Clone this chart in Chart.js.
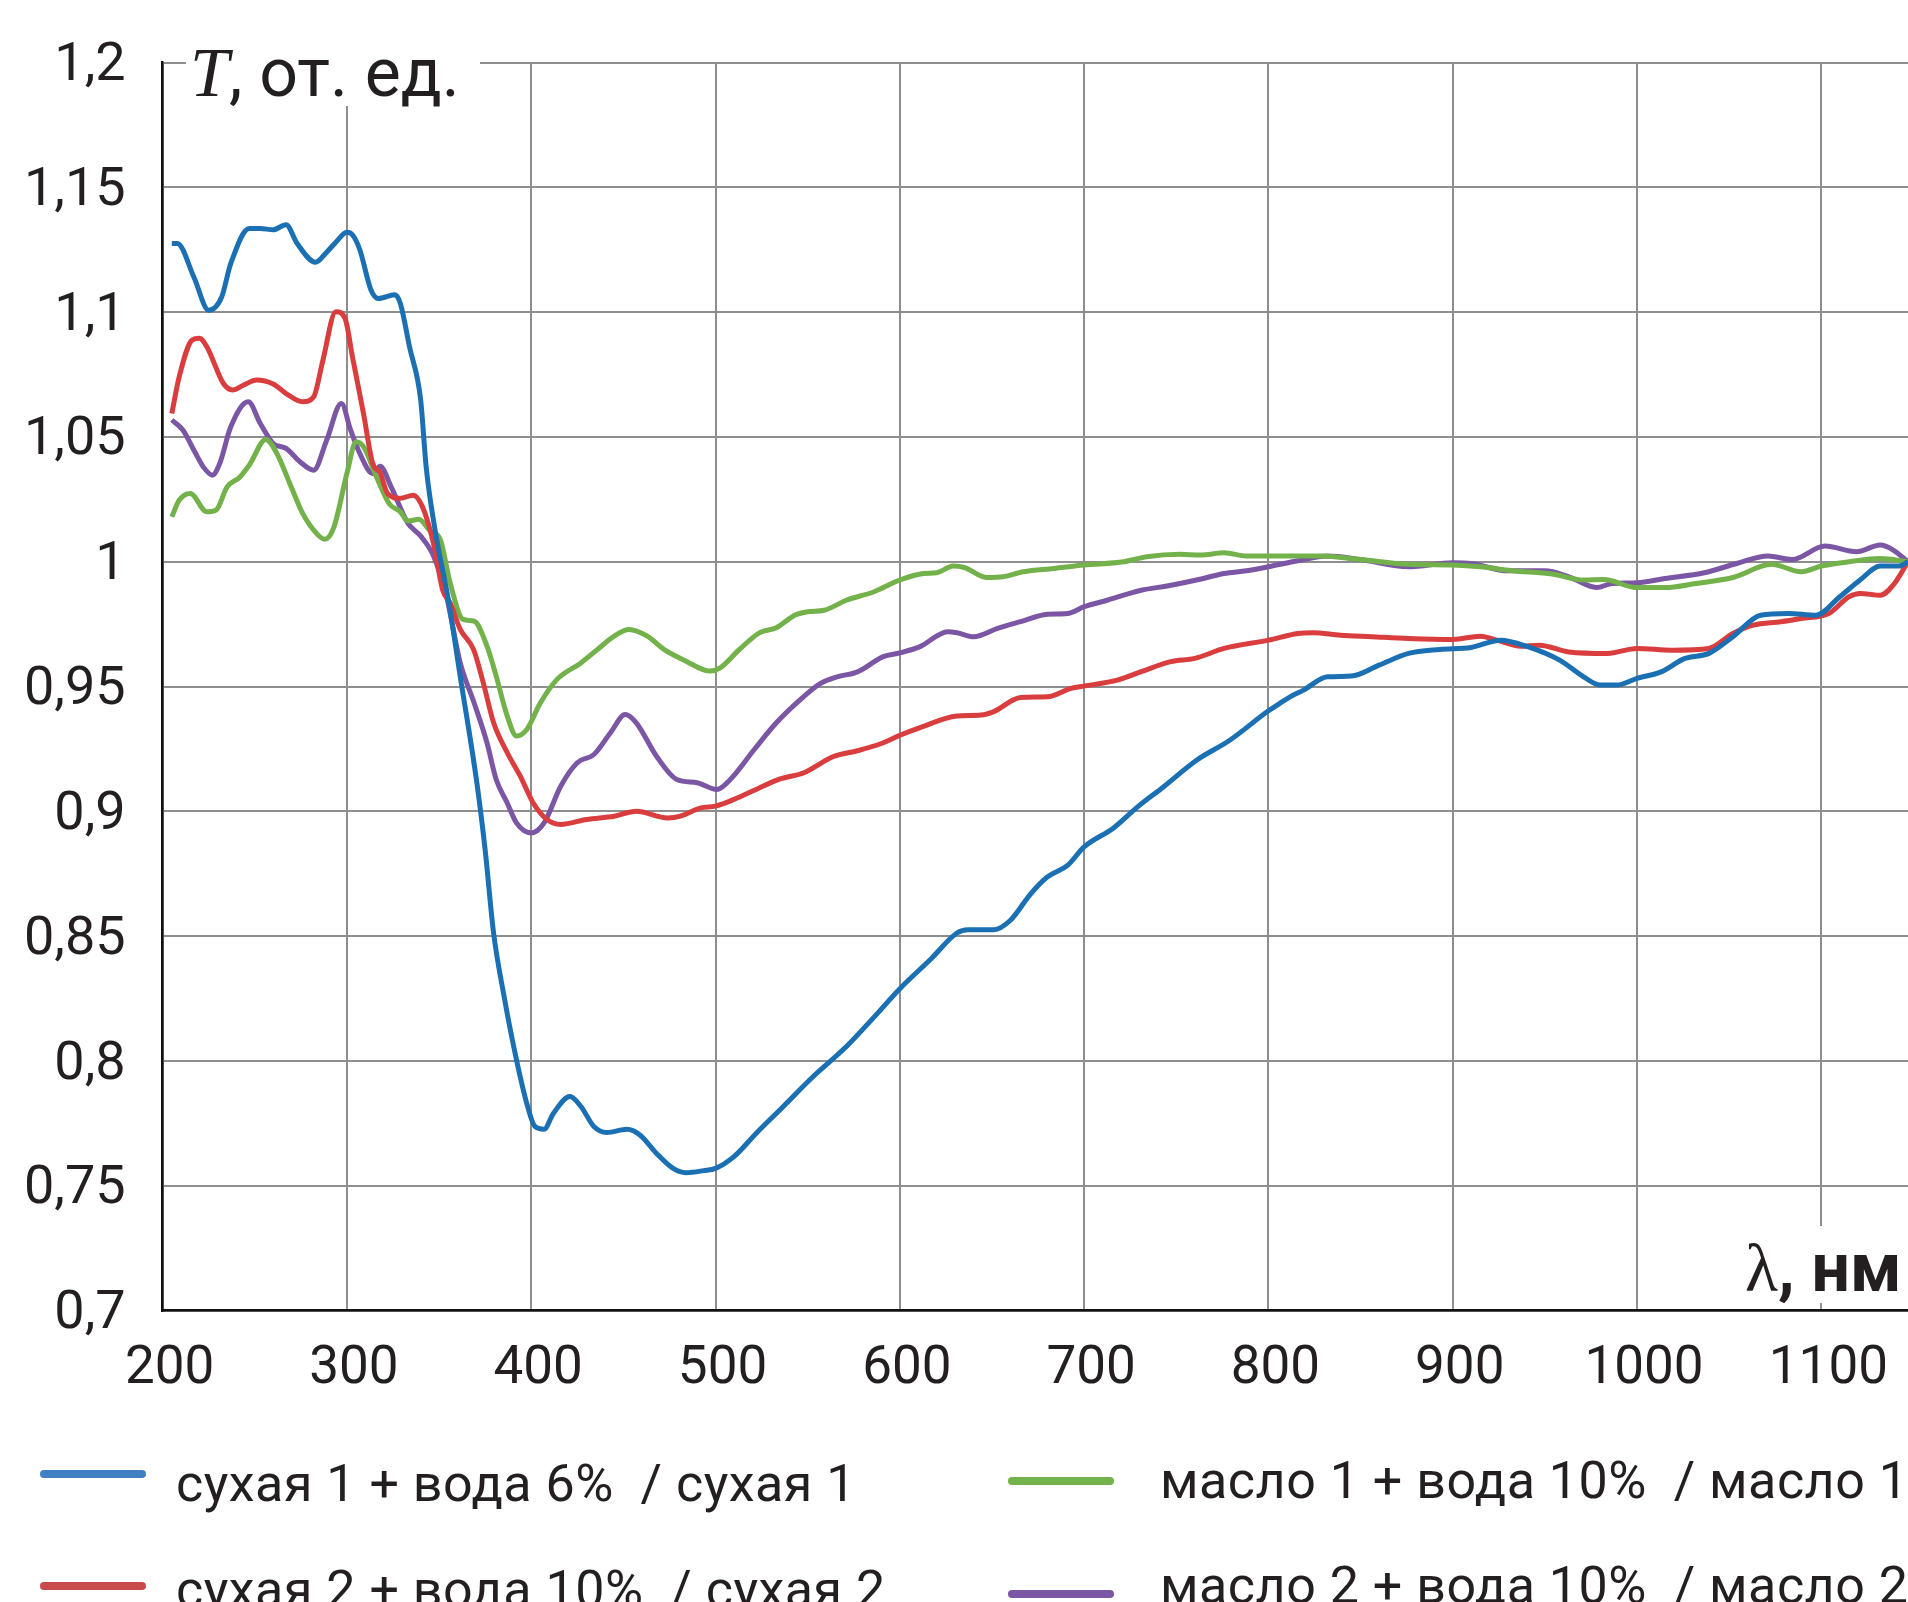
<!DOCTYPE html>
<html>
<head>
<meta charset="utf-8">
<script src="https://cdn.jsdelivr.net/npm/chart.js@4.4.1/dist/chart.umd.min.js"></script>
<style>
    html, body { margin: 0; padding: 0; background: #fff; }
    #wrap { width: 1908px; height: 1602px; overflow: hidden; }
</style>
</head>
<body>
<div id="wrap"><canvas id="spectraChart" width="1908" height="1602"></canvas></div>
<script>
// сухая 1 + вода 6% / сухая 1
const waveDry1 = [205, 208, 217, 225, 232, 237, 247, 253, 260, 267, 273, 283, 289, 294, 300, 303, 307, 313, 317, 326, 329, 334, 340, 343, 348, 355, 361.5, 370.5, 375, 379.6, 385, 392, 397.6, 402, 407, 412, 421, 427, 434, 441, 452, 459, 468, 477, 484, 493.5, 500, 510, 522, 535, 553, 571, 586, 600, 617, 631, 637, 651, 660, 671, 680, 691, 700, 716, 729, 743, 761, 779, 800, 806, 812, 819, 832, 845, 860, 876, 893, 910, 926, 941, 958, 971, 980, 989, 1000, 1013, 1026, 1039, 1052, 1067, 1082, 1097, 1110, 1121, 1132, 1142, 1147];
const transDry1 = [1.1275, 1.1275, 1.114, 1.1008, 1.106, 1.1195, 1.1335, 1.1335, 1.133, 1.135, 1.1275, 1.120, 1.124, 1.128, 1.132, 1.131, 1.125, 1.109, 1.1055, 1.107, 1.1035, 1.086, 1.065, 1.038, 1.012, 0.985, 0.954, 0.9115, 0.8846, 0.8512, 0.827, 0.8005, 0.783, 0.7738, 0.7727, 0.779, 0.7858, 0.7818, 0.7738, 0.7714, 0.7727, 0.7704, 0.763, 0.757, 0.7553, 0.7561, 0.757, 0.7617, 0.771, 0.7805, 0.7938, 0.8058, 0.8176, 0.829, 0.841, 0.8513, 0.8526, 0.8526, 0.8564, 0.867, 0.8737, 0.8784, 0.8858, 0.8934, 0.9018, 0.9098, 0.9205, 0.9285, 0.9403, 0.9432, 0.946, 0.9486, 0.9539, 0.9542, 0.9586, 0.9633, 0.9649, 0.9657, 0.9686, 0.9659, 0.9606, 0.9539, 0.9506, 0.9506, 0.9533, 0.9559, 0.9613, 0.9633, 0.970, 0.9786, 0.9793, 0.9786, 0.986, 0.9927, 0.9983, 0.9983, 1.0];

// сухая 2 + вода 10% / сухая 2
const waveDry2 = [205, 209, 216, 220, 224, 233, 238, 244, 251, 260, 267, 276, 282, 287, 294, 299, 303, 309, 314, 318, 322, 329, 336, 341, 347, 352, 356, 361.5, 368.7, 374, 379.6, 387, 394, 401, 408.5, 416, 430, 445, 457, 474, 481, 492, 500, 510, 522, 535, 548, 564, 577, 590, 600, 611, 631, 644, 651, 665.5, 680, 693, 700, 718, 731, 747, 760, 776, 800, 816, 824, 839, 856, 876, 900, 915, 924, 937, 947, 963, 984, 1000, 1019, 1039, 1052, 1063, 1078, 1089, 1104, 1115, 1121, 1132, 1139, 1147];
const transDry2 = [1.0594, 1.0741, 1.0888, 1.0895, 1.0861, 1.0714, 1.0688, 1.0708, 1.0728, 1.0712, 1.0674, 1.0641, 1.0661, 1.0808, 1.1002, 1.0975, 1.0821, 1.0594, 1.0394, 1.0357, 1.0274, 1.0254, 1.0267, 1.022, 1.0073, 0.9886, 0.9836, 0.9729, 0.9649, 0.9515, 0.9355, 0.9235, 0.9142, 0.9035, 0.8968, 0.8948, 0.8968, 0.8981, 0.9001, 0.8974, 0.8981, 0.9014, 0.9021, 0.9048, 0.9088, 0.913, 0.9155, 0.922, 0.9243, 0.9272, 0.9305, 0.9336, 0.9382, 0.9386, 0.940, 0.9456, 0.9459, 0.9493, 0.9502, 0.9526, 0.956, 0.960, 0.9613, 0.9653, 0.9686, 0.9713, 0.9716, 0.9706, 0.970, 0.9693, 0.9689, 0.9702, 0.9686, 0.9662, 0.9666, 0.9639, 0.9633, 0.9653, 0.9646, 0.9653, 0.9713, 0.9746, 0.976, 0.9773, 0.9793, 0.986, 0.9873, 0.9866, 0.9907, 1.0];

// масло 1 + вода 10% / масло 1
const waveOil1 = [205, 209, 215, 224, 229, 235, 242, 247, 256, 262, 269, 276, 283.5, 288, 293, 300, 305, 309, 316, 323, 329, 333, 339, 345, 350.6, 356, 363, 369, 376, 381, 387, 392, 397.6, 405, 414, 427, 436, 445, 453, 463, 472, 484, 497, 502.5, 513, 524, 533, 543, 550, 559, 571, 586, 600, 613, 620, 629, 635, 647, 656, 667, 683.5, 700, 721.5, 734, 752, 763, 776, 788, 800, 828, 850, 876, 900, 915, 932, 954, 971, 982, 999.5, 1015, 1032, 1052, 1073, 1089, 1100, 1115, 1132, 1147];
const transOil1 = [1.018, 1.0247, 1.0274, 1.020, 1.0207, 1.030, 1.034, 1.0387, 1.049, 1.0434, 1.0314, 1.0194, 1.0114, 1.009, 1.014, 1.0354, 1.0481, 1.0461, 1.0341, 1.0232, 1.020, 1.0163, 1.017, 1.0125, 1.009, 0.9916, 0.9769, 0.9762, 0.9662, 0.9542, 0.9382, 0.9302, 0.9328, 0.9435, 0.9529, 0.9595, 0.9649, 0.9702, 0.9729, 0.9702, 0.9649, 0.9602, 0.9562, 0.9575, 0.9649, 0.9716, 0.9736, 0.9786, 0.980, 0.9806, 0.9846, 0.988, 0.9927, 0.9953, 0.9956, 0.9983, 0.9977, 0.9937, 0.994, 0.996, 0.9973, 0.9987, 1.0, 1.002, 1.003, 1.0027, 1.0036, 1.0023, 1.0023, 1.0023, 1.0009, 0.999, 0.9987, 0.998, 0.9964, 0.9951, 0.9927, 0.9929, 0.9897, 0.9897, 0.9913, 0.9937, 0.999, 0.996, 0.9983, 1.0, 1.0013, 1.0];

// масло 2 + вода 10% / масло 2
const waveOil2 = [205, 211, 217, 222, 227, 231, 237, 246.5, 253, 260, 267, 274.5, 282, 289, 297, 302, 307, 314, 318, 324, 333, 340, 347, 354, 361.5, 369, 376, 381, 387, 392, 400, 407, 416, 425, 434, 443, 451, 457, 468, 479, 490, 500.7, 508, 521, 533, 546, 557, 566, 577, 591, 600, 611, 626, 631, 640, 653, 665.5, 680, 691, 700, 712.5, 731, 745, 761, 776, 788, 800, 816, 832, 850, 876, 900, 910, 930, 950, 963, 978, 986.5, 1000, 1015, 1036.5, 1054, 1071, 1084, 1102, 1119, 1132, 1139, 1147];
const transOil2 = [1.0568, 1.0528, 1.0447, 1.0381, 1.0347, 1.0394, 1.0541, 1.0641, 1.0554, 1.0474, 1.0454, 1.0401, 1.0367, 1.0487, 1.0634, 1.0528, 1.0434, 1.0354, 1.0383, 1.030, 1.0156, 1.0103, 1.0023, 0.9862, 0.9595, 0.9435, 0.9275, 0.9128, 0.9034, 0.8954, 0.8914, 0.8954, 0.9101, 0.9195, 0.9228, 0.9315, 0.9388, 0.9355, 0.9221, 0.9128, 0.9115, 0.9088, 0.9128, 0.9248, 0.9355, 0.9448, 0.9513, 0.9539, 0.9559, 0.962, 0.9635, 0.966, 0.972, 0.9716, 0.970, 0.9733, 0.976, 0.979, 0.9793, 0.982, 0.9846, 0.9886, 0.9903, 0.9927, 0.9953, 0.9964, 0.998, 1.0004, 1.0023, 1.0009, 0.998, 0.9996, 0.9993, 0.9964, 0.9964, 0.994, 0.9897, 0.9913, 0.9916, 0.9933, 0.9956, 0.9993, 1.0023, 1.0009, 1.0063, 1.004, 1.0067, 1.0047, 1.0];

const seriesLabels = [
    'сухая 1 + вода 6%  / сухая 1',
    'сухая 2 + вода 10%  / сухая 2',
    'масло 1 + вода 10%  / масло 1',
    'масло 2 + вода 10%  / масло 2'
];
const seriesColors = ['#1a70b2', '#d93d3d', '#73b14a', '#7a56a5'];
const legendColors = ['#3f7fc2', '#c94a4a', '#73b14a', '#7a56a5'];

const xTicks = [200, 300, 400, 500, 600, 700, 800, 900, 1000, 1100];
const yTicks = [0.7, 0.75, 0.8, 0.85, 0.9, 0.95, 1, 1.05, 1.1, 1.15, 1.2];

const TEXT = '#231f20';
const GRID = '#8e8e8e';

function toPoints(xs, ys) {
    return xs.map((x, i) => ({ x: x, y: ys[i] }));
}

const seriesData = [
    toPoints(waveDry1, transDry1),
    toPoints(waveDry2, transDry2),
    toPoints(waveOil1, transOil1),
    toPoints(waveOil2, transOil2)
];

// axis captions sit on white patches over the grid
const axisTitles = {
    id: 'axisTitles',
    afterDraw(chart) {
        const c = chart.ctx;
        c.save();
        c.fillStyle = '#fff';
        c.fillRect(186, 28, 294, 78);
        c.fillRect(1738, 1226, 170, 77);

        c.fillStyle = TEXT;
        c.textBaseline = 'alphabetic';
        c.textAlign = 'left';
        c.font = 'italic 70px "Liberation Serif", serif';
        c.fillText('T', 190, 96);
        let x = 190 + c.measureText('T').width;
        c.font = '68px Roboto';
        c.fillText(', от. ед.', x, 96);

        c.font = '68px "Liberation Serif", serif';
        c.fillText('λ', 1745, 1291);
        x = 1745 + c.measureText('λ').width;
        c.font = 'bold 68px Roboto';
        c.fillText(', нм', x, 1291);
        c.restore();
    }
};

// two-column legend under the plot
const legendSpots = [
    { lineX: 40, lineY: 1474, textX: 176, baseY: 1501 },
    { lineX: 40, lineY: 1586, textX: 176, baseY: 1607 },
    { lineX: 1008, lineY: 1481, textX: 1160, baseY: 1498 },
    { lineX: 1008, lineY: 1594, textX: 1160, baseY: 1603 }
];

const sideLegend = {
    id: 'sideLegend',
    afterDraw(chart) {
        const c = chart.ctx;
        c.save();
        chart.data.datasets.forEach((ds, i) => {
            const s = legendSpots[i];
            c.strokeStyle = legendColors[i];
            c.lineWidth = 8;
            c.lineCap = 'round';
            c.beginPath();
            c.moveTo(s.lineX + 4, s.lineY);
            c.lineTo(s.lineX + 102, s.lineY);
            c.stroke();

            c.fillStyle = TEXT;
            c.font = '52px Roboto';
            c.letterSpacing = '0.5px';
            c.textBaseline = 'alphabetic';
            c.fillText(ds.label, s.textX, s.baseY);
        });
        c.restore();
    }
};

const ctx = document.getElementById('spectraChart');

new Chart(ctx, {
    type: 'line',
    data: {
        datasets: seriesData.map((pts, i) => ({
            label: seriesLabels[i],
            data: pts,
            borderColor: seriesColors[i],
            backgroundColor: seriesColors[i],
            borderWidth: 5,
            pointRadius: 0,
            fill: false,
            cubicInterpolationMode: 'monotone'
        }))
    },
    options: {
        responsive: false,
        animation: false,
        layout: { padding: { top: 62.5, right: 0, bottom: 0, left: 0 } },
        plugins: {
            legend: { display: false },
            tooltip: { enabled: false }
        },
        scales: {
            x: {
                type: 'linear',
                min: 200,
                max: 1147,
                afterBuildTicks: scale => {
                    scale.ticks = xTicks.map(v => ({ value: v }));
                },
                afterFit: scale => {
                    scale.height = 291.3;
                    scale.paddingLeft = 0;
                    scale.paddingRight = 0;
                },
                ticks: {
                    padding: 27,
                    labelOffset: 7,
                    maxRotation: 0,
                    autoSkip: false,
                    color: TEXT,
                    font: { family: 'Roboto', size: 53 },
                    callback: v => String(v)
                },
                grid: { color: GRID, lineWidth: 2, drawTicks: false },
                border: { color: '#111', width: 2.5 }
            },
            y: {
                type: 'linear',
                min: 0.7,
                max: 1.2,
                afterBuildTicks: scale => {
                    scale.ticks = yTicks.map(v => ({ value: v }));
                },
                afterFit: scale => {
                    scale.width = 162.6;
                    scale.paddingTop = 0;
                    scale.paddingBottom = 0;
                },
                ticks: {
                    padding: 37,
                    labelOffset: 4,
                    color: TEXT,
                    font: { family: 'Roboto', size: 54 },
                    callback: v => String(Math.round(v * 100) / 100).replace('.', ',')
                },
                grid: { color: GRID, lineWidth: 2, drawTicks: false },
                border: { color: '#111', width: 2.5 }
            }
        }
    },
    plugins: [axisTitles, sideLegend]
});
</script>
</body>
</html>
